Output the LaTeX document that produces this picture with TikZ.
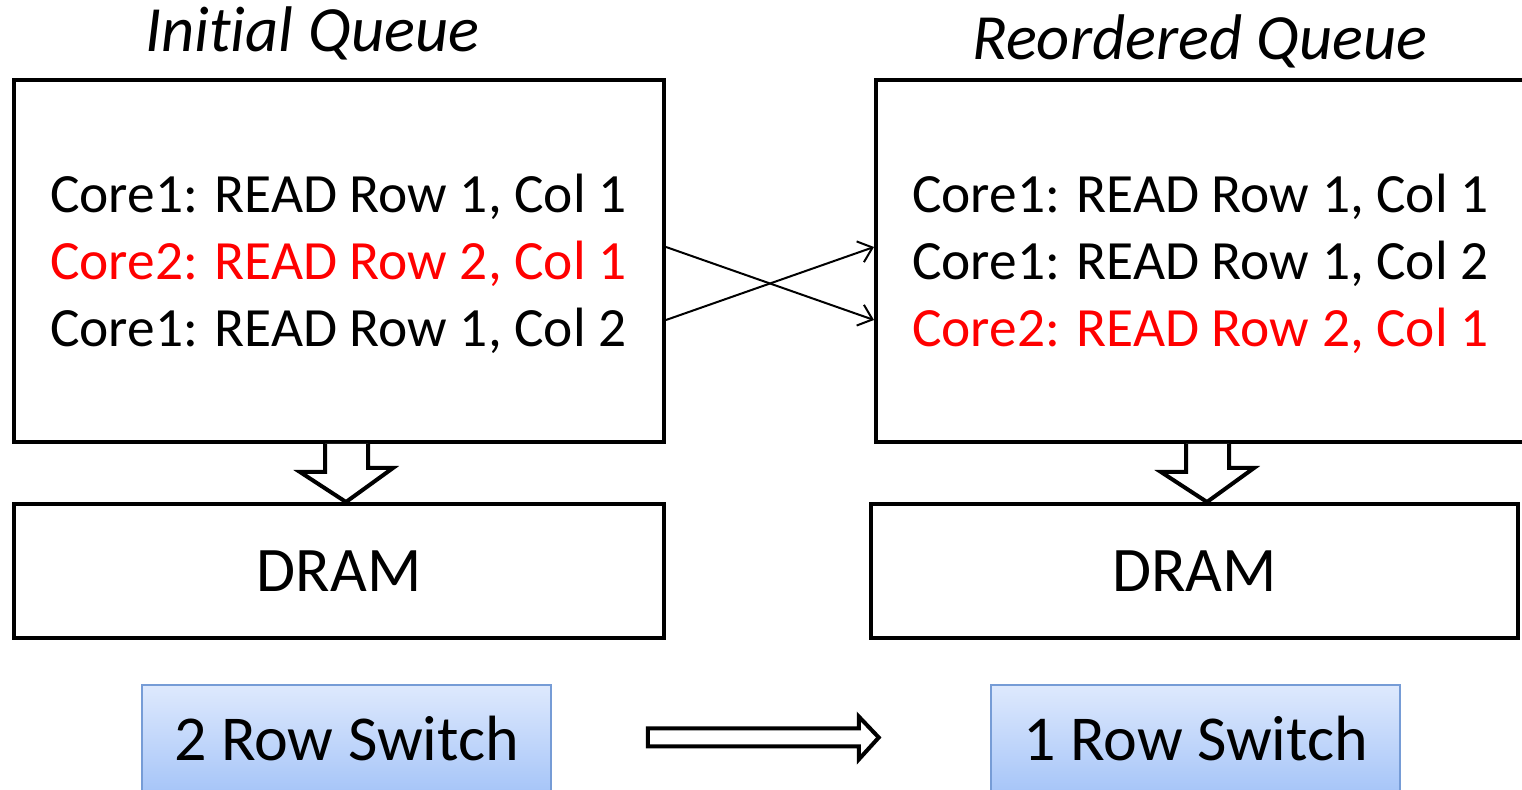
\documentclass[tikz,border=0pt]{standalone}
\usepackage{fontspec}
\setmainfont{Carlito}[Ligatures=NoCommon]
\usetikzlibrary{arrows,arrows.meta,shapes}
\definecolor{reqred}{RGB}{255,0,0}
\definecolor{swtop}{RGB}{222,233,253}
\definecolor{swbot}{RGB}{166,197,248}
\definecolor{swline}{RGB}{118,156,214}
\newcommand{\qfont}{\fontsize{55.4bp}{60bp}\selectfont}
\newcommand{\bfontsz}{\fontsize{63.5bp}{66bp}\selectfont}
\newcommand{\sfontsz}{\fontsize{64bp}{66bp}\selectfont}
\newcommand{\tfontsz}{\fontsize{64.5bp}{66bp}\selectfont\itshape}

\begin{document}
\begin{tikzpicture}[>={Straight Barb[length=13bp,width=22bp]}, line join=miter]
      \tikzstyle{every node}=[font=\qfont]
      \tikzstyle{queuebox}=[draw, line width=4bp, inner sep=0pt]
      \tikzstyle{reqline}=[anchor=base west, inner sep=0pt]
      \tikzstyle{switchbox}=[draw=swline, line width=1.5bp, top color=swtop, bottom color=swbot,
                             minimum width=409bp, minimum height=108bp, font=\sfontsz]
      \tikzstyle{blockarrow}=[draw, line width=4bp, fill=white]
      %%
  \useasboundingbox (0bp,0bp) rectangle (1522bp,790bp);
  \node (lt) at (145bp,738bp) [reqline, font=\tfontsz] {Initial Queue};
  \node (rt) at (972bp,730bp) [reqline, font=\tfontsz] {Reordered Queue};
  \node (lq) at (339bp,529bp) [queuebox, minimum width=650bp, minimum height=362bp] {};
  \node (rq) at (1205bp,529bp) [queuebox, minimum width=658bp, minimum height=362bp] {};
  \node (l1) at (50bp,577bp) [reqline] {Core1: READ Row 1, Col 1};
  \node (l2) at (50bp,510bp) [reqline, text=reqred] {Core2: READ Row 2, Col 1};
  \node (l3) at (50bp,443bp) [reqline] {Core1: READ Row 1, Col 2};
  \node (r1) at (912bp,577bp) [reqline] {Core1: READ Row 1, Col 1};
  \node (r2) at (912bp,510bp) [reqline] {Core1: READ Row 1, Col 2};
  \node (r3) at (912bp,443bp) [reqline, text=reqred] {Core2: READ Row 2, Col 1};
  \node (ld) at (339bp,219bp) [queuebox, minimum width=650bp, minimum height=134bp, font=\bfontsz] {DRAM};
  \node (rd) at (1194.5bp,219bp) [queuebox, minimum width=647bp, minimum height=134bp, font=\bfontsz] {DRAM};
  \node (ls) at (346.5bp,51bp) [switchbox] {2 Row Switch};
  \node (rs) at (1195.5bp,51bp) [switchbox] {1 Row Switch};
  \draw [->, line width=2bp] ([yshift=14bp]lq.east) -- ([yshift=-59bp]rq.west);
  \draw [->, line width=2bp] ([yshift=-59bp]lq.east) -- ([yshift=14bp]rq.west);
  \draw [blockarrow] ([xshift=-14bp]lq.south) -- ++(0bp,-28bp) -- ++(-25bp,0bp) -- ([xshift=7bp]ld.north)
        -- ++(47bp,34bp) -- ++(-25bp,0bp) -- ([xshift=29bp]lq.south);
  \draw [blockarrow] ([xshift=-19bp]rq.south) -- ++(0bp,-28bp) -- ++(-25bp,0bp) -- ([xshift=12.5bp]rd.north)
        -- ++(47bp,34bp) -- ++(-25bp,0bp) -- ([xshift=24bp]rq.south);
  \coordinate (ha) at ([xshift=96bp,yshift=1.5bp]ls.east);
  \draw [blockarrow] ([yshift=9bp]ha) -- ++(211bp,0bp) -- ++(0bp,12bp) -- ++(20bp,-21bp)
        -- ++(-20bp,-22bp) -- ++(0bp,13bp) -- ++(-211bp,0bp) -- cycle;
%
\end{tikzpicture}
\end{document}
